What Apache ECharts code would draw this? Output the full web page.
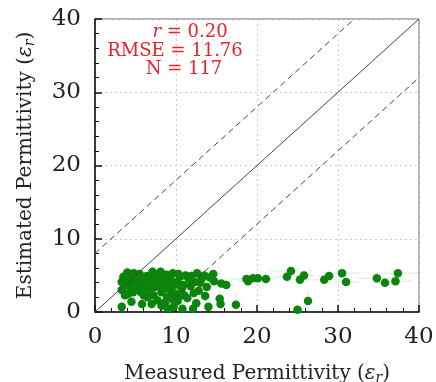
<!DOCTYPE html>
<html><head><meta charset="utf-8">
<script src="https://cdn.jsdelivr.net/npm/echarts@6/dist/echarts.min.js"></script>
<style>html,body{margin:0;padding:0;background:#fff}#c{width:436px;height:382px}</style>
</head><body><div id="c"></div>
<script>
// [measured, estimated, measuredErr, estimatedErr]
const observations = [
  [16.2,3.7,1.0,0.6],[17.4,1.0,0.4,1.6],[18.7,4.5,2.0,0.3],[18.9,4.2,1.2,0.3],[19.5,4.6,1.5,0.3],
  [20.1,4.6,1.5,0.3],[21.1,4.5,1.2,0.3],[23.7,4.8,1.6,0.4],[24.2,5.6,2.6,0.4],[25.3,4.4,1.4,0.4],
  [25.8,5.0,1.3,0.4],[28.3,4.4,1.5,0.3],[28.9,4.9,1.4,0.3],[30.5,5.3,2.4,0.3],[31.0,4.1,1.5,0.3],
  [34.8,4.6,2.4,0.3],[35.8,4.0,1.5,0.3],[37.1,4.2,2.0,0.3],[37.4,5.3,2.8,0.3],[25.0,0.3,0.6,0.5],
  [26.3,1.5,0.5,1.5],
  [10.5,4.8,0.8,0.6],[11.6,4.5,0.8,0.6],[12.3,4.1,0.8,0.6],[13.2,4.6,1.0,0.6],[14.6,5.2,1.0,0.6],
  [14.7,4.2,0.8,0.6],[13.8,3.4,0.8,1.0],[10.9,3.7,0.6,1.0],[11.0,2.3,0.6,1.2],[12.2,2.6,0.6,1.2],
  [10.7,3.2,0.6,1.0],[10.8,0.45,0.5,0.4],[12.1,0.45,0.5,0.4],[14.0,0.7,0.5,0.5],[15.4,1.8,0.6,1.2],
  [15.5,1.1,0.5,0.8],[15.6,3.9,0.8,0.6],
  [5.3,4.8,0.5,1.0],[5.6,3.9,0.5,1.2],[6.0,4.3,0.5,1.2],[6.0,3.4,0.5,1.2],[6.0,2.3,0.5,1.2],
  [5.8,1.1,0.4,0.8],[7.0,1.1,0.4,0.8],[7.2,2.3,0.5,1.2],[7.4,3.4,0.5,1.2],[7.4,4.8,0.5,1.2],
  [7.8,5.2,0.5,1.0],[8.0,4.1,0.5,1.2],[8.4,4.8,0.5,1.0],[8.2,2.7,0.5,1.2],[8.6,3.9,0.5,1.2],
  [9.0,3.2,0.5,1.2],[9.3,4.5,0.5,1.0],[8.9,2.0,0.5,1.2],[9.5,1.8,0.5,1.2],[9.9,2.5,0.5,1.2],
  [10.1,4.1,0.6,1.0],[10.7,3.4,0.6,1.0],[9.0,0.45,0.4,0.4],[9.7,0.7,0.4,0.5],[8.2,0.9,0.4,0.6],
  [10.7,2.3,0.6,1.2],
  [3.5,4.8,0.4,1.0],[3.9,5.0,0.4,1.0],[4.5,4.8,0.4,1.0],[3.3,4.1,0.4,1.2],[3.7,3.6,0.4,1.2],
  [4.3,3.9,0.4,1.2],[4.9,4.1,0.4,1.2],[3.3,3.0,0.4,1.2],[4.1,2.5,0.4,1.2],[4.7,2.7,0.4,1.2],
  [3.7,2.3,0.4,1.2],[4.5,1.4,0.4,0.8],[3.3,0.7,0.4,0.5],
  [4.0,5.4,0.4,0.8],[4.8,5.3,0.4,0.8],[5.1,4.5,0.4,1.0],[5.5,5.2,0.4,0.8],[6.4,4.9,0.5,1.0],
  [6.8,4.6,0.5,1.0],[7.1,5.5,0.5,0.8],[7.6,4.4,0.5,1.0],[8.1,5.5,0.5,0.8],[8.8,5.1,0.5,0.8],
  [9.1,4.8,0.5,1.0],[9.6,5.3,0.5,0.8],[9.8,3.7,0.5,1.0],[10.3,5.2,0.6,0.8],[11.2,5.0,0.6,0.8],
  [11.9,4.9,0.6,0.8],[12.6,5.3,0.8,0.8],[13.0,4.0,0.8,1.0],[13.5,5.0,0.8,0.8],[14.2,4.7,0.8,0.8],
  [6.3,3.8,0.5,1.2],[6.7,3.1,0.5,1.2],[7.9,3.6,0.5,1.2],[8.5,3.2,0.5,1.2],[9.4,2.9,0.5,1.2],
  [5.2,3.0,0.4,1.2],[5.7,2.7,0.4,1.2],[6.5,2.0,0.5,1.2],[7.7,1.6,0.5,1.0],[8.6,1.3,0.5,0.8],
  [10.2,1.5,0.6,1.0],[11.4,1.9,0.6,1.0],[12.8,2.9,0.6,1.2],[13.6,2.2,0.6,1.2],[4.4,3.4,0.4,1.2],
  [3.6,4.4,0.4,1.2],[6.9,4.0,0.5,1.2],[9.2,3.9,0.5,1.2],[11.8,3.5,0.6,1.2],[12.5,1.2,0.6,0.8]
];
const identityLine = [[0,0],[40,40]];
const upperBound = [[0,8],[32,40]];
const lowerBound = [[8,0],[40,32]];
const axisTicks = [0,10,20,30,40];
const statsLines = ['{i|r} = 0.20','RMSE = 11.76','N = 117'];

const font = 'DejaVu Serif';
const chart = echarts.init(document.getElementById('c'), null, {renderer:'canvas'});
const axisCommon = {
  min: axisTicks[0], max: axisTicks[axisTicks.length-1], interval: 10,
  axisLine: {show:true, onZero:false, lineStyle:{color:'#111', width:1.5}},
  axisTick: {show:true, inside:true, length:7, lineStyle:{color:'#111', width:1.5}},
  minorTick: {show:true, splitNumber:5, length:4, lineStyle:{color:'#111', width:1}},
  splitLine: {show:true, lineStyle:{color:'#ccc', type:[2,3], width:1}},
  axisLabel: {fontFamily:font, fontSize:23, color:'#222'},
  nameLocation:'middle',
  nameTextStyle:{fontFamily:font, fontSize:20, color:'#222',
    rich:{e:{fontFamily:font, fontSize:20, fontStyle:'italic', color:'#222'},
          s:{fontFamily:font, fontSize:14, fontStyle:'italic', color:'#222', padding:[9,0,0,0]}}}
};
chart.setOption({
  animation:false,
  grid:{left:95, right:17, top:19, bottom:70, show:true, borderColor:'#666', borderWidth:1,
        containLabel:false, outerBoundsMode:'none'},
  xAxis: Object.assign({}, axisCommon, {type:'value', name:'Measured Permittivity ({e|ε}{s|r})', nameGap:50,
    axisLabel:Object.assign({}, axisCommon.axisLabel, {margin:14})}),
  yAxis: Object.assign({}, axisCommon, {type:'value', name:'Estimated Permittivity ({e|ε}{s|r})', nameGap:58,
    axisLabel:Object.assign({}, axisCommon.axisLabel, {margin:14})}),
  series:[
    {type:'custom', z:1, silent:true,
     data: observations,
     renderItem:function(params, api){
       const x=api.value(0), y=api.value(1), ex=api.value(2), ey=api.value(3);
       const a=api.coord([x-ex,y]), b=api.coord([x+ex,y]);
       const c=api.coord([x,Math.max(0,y-ey)]), d=api.coord([x,y+ey]);
       const st={stroke:'rgba(60,170,60,0.22)', lineWidth:1};
       return {type:'group', children:[
         {type:'line', shape:{x1:a[0],y1:a[1],x2:b[0],y2:b[1]}, style:st},
         {type:'line', shape:{x1:c[0],y1:c[1],x2:d[0],y2:d[1]}, style:st}
       ]};
     }},
    {type:'scatter', z:3, symbolSize:8.5, data:observations.map(o=>[o[0],o[1]]),
     itemStyle:{color:'#0a840a', opacity:1}},
    {type:'line', z:4, data:identityLine, symbol:'none', lineStyle:{color:'#444', width:1}},
    {type:'line', z:4, data:upperBound, symbol:'none', lineStyle:{color:'#444', width:1, type:[6,4]}},
    {type:'line', z:4, data:lowerBound, symbol:'none', lineStyle:{color:'#444', width:1, type:[6,4]}}
  ],
  graphic: statsLines.map((t,i)=>({
    type:'text', x:[190,175,184][i], y:[32,51,69][i], z:10,
    style:{text:t, fontFamily:font, fontSize:18, fill:'#e3242b', align:'center', verticalAlign:'middle',
      rich:{i:{fontFamily:font, fontSize:18, fontStyle:'italic', fill:'#e3242b'}}}
  }))
});
</script></body></html>
